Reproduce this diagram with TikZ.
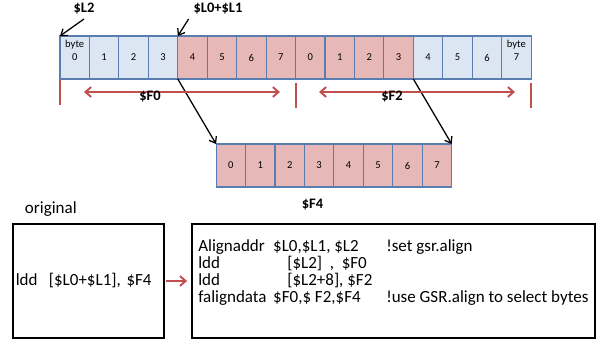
\documentclass[tikz,border=0pt]{standalone}
\usepackage{fontspec}
\setmainfont{Carlito}
\usetikzlibrary{positioning,arrows.meta,calc}
\definecolor{cellblue}{HTML}{DCE6F2}
\definecolor{cellpink}{HTML}{E6B9B8}
\definecolor{cellline}{HTML}{5A7DB0}
\definecolor{rangered}{HTML}{C0504D}
\tikzset{
  cell/.style={draw=cellline,line width=0.8pt,minimum width=0.736cm,minimum height=1.075cm,
    inner sep=0pt,outer sep=0pt,font=\fontsize{7.5}{9}\selectfont},
  bcell/.style={cell,fill=cellblue},
  pcell/.style={cell,fill=cellpink},
  bytelbl/.style={anchor=north,inner sep=3pt,font=\fontsize{7.5}{9}\selectfont},
  ptr/.style={-{Straight Barb[length=4pt,width=6pt]},line width=0.9pt},
  redline/.style={rangered,line width=1.4pt},
  reglbl/.style={font=\fontsize{10.3}{12}\selectfont\bfseries},
  codebox/.style={draw,line width=0.9pt,minimum height=2.85cm}
}
\begin{document}
\begin{tikzpicture}[x=0.025cm,y=-0.025cm]
\useasboundingbox (0,0) rectangle (600,343);
% memory: two doublewords
\node[bcell,label={[bytelbl]north:byte}] (a0) at (74.72,57.5) {0};
\node[bcell] (a1) [right=0pt of a0] {1};
\node[bcell] (a2) [right=0pt of a1] {2};
\node[bcell] (a3) [right=0pt of a2] {3};
\node[pcell] (a4) [right=0pt of a3] {4};
\node[pcell] (a5) [right=0pt of a4] {5};
\node[pcell] (a6) [right=0pt of a5] {6};
\node[pcell] (a7) [right=0pt of a6] {7};
\node[pcell] (a8) [right=0pt of a7] {0};
\node[pcell] (a9) [right=0pt of a8] {1};
\node[pcell] (a10) [right=0pt of a9] {2};
\node[pcell] (a11) [right=0pt of a10] {3};
\node[bcell] (a12) [right=0pt of a11] {4};
\node[bcell] (a13) [right=0pt of a12] {5};
\node[bcell] (a14) [right=0pt of a13] {6};
\node[bcell,label={[bytelbl]north:byte}] (a15) [right=0pt of a14] {7};
% result register
\node[pcell] (f0) at (230.8,165.5) {0};
\node[pcell] (f1) [right=0pt of f0] {1};
\node[pcell] (f2) [right=0pt of f1] {2};
\node[pcell] (f3) [right=0pt of f2] {3};
\node[pcell] (f4) [right=0pt of f3] {4};
\node[pcell] (f5) [right=0pt of f4] {5};
\node[pcell] (f6) [right=0pt of f5] {6};
\node[pcell] (f7) [right=0pt of f6] {7};
% address labels
\node[reglbl] (lblL2) at (84,8.5) {\$L2};
\node[reglbl] (lblL01) at (218,8.5) {\$L0+\$L1};
\draw[ptr] (lblL2.south) -- (a0.north west);
\draw[ptr] (lblL01.south west) -- (a3.north east);
\draw[ptr] (a3.south east) -- (f0.north west);
\draw[ptr] (a11.south east) -- (f7.north east);
% register ranges
\draw[redline] ($(a0.south west)+(0,1)$) -- ++(0,25);
\draw[redline] ($(a7.south east)+(0,4)$) -- ++(0,25);
\draw[redline] ($(a15.south east)+(0,4)$) -- ++(0,25);
\draw[redline,{Straight Barb[length=4pt,width=7pt]}-{Straight Barb[length=4pt,width=7pt]}] (84,92) -- (280,92);
\draw[redline,{Straight Barb[length=4pt,width=7pt]}-{Straight Barb[length=4pt,width=7pt]}] (319,92) -- (515,92);
\node[reglbl] (lblF0) at (150,97) {\$F0};
\node[reglbl] (lblF2) at (392,97) {\$F2};
\node[reglbl] (lblF4) at (312.5,205) {\$F4};
% code
\node[anchor=base west,font=\fontsize{12.1}{14}\selectfont] (orig) at (20,213) {original};
\node[codebox,minimum width=3.775cm,text width=3.775cm-4pt,inner xsep=2pt,align=left,
  font=\fontsize{12.1}{14}\selectfont] (oldcode) at (88.5,281) {ldd\ \ [\$L0+\$L1], \$F4};
\node[codebox,minimum width=10.075cm] (newcode) at (393.5,281) {};
\node[anchor=base west,inner sep=0pt,font=\fontsize{12.1}{11.6}\selectfont] (codetxt) at (198,251)
  {\begin{tabular}[t]{@{}p{53.3pt}@{}p{80.4pt}@{}l@{}}
  Alignaddr & \$L0,\$L1, \$L2 & !set gsr.align\\
  ldd & \hspace{10pt}[\$L2]\ \ ,\ \ \$F0 & \\
  ldd & \hspace{10pt}[\$L2+8], \$F2 & \\
  faligndata & \$F0,\$ F2,\$F4 & !use GSR.align to select bytes
  \end{tabular}};
\draw[redline,-{Straight Barb[length=4pt,width=7pt]},shorten <=1pt,shorten >=3pt] (oldcode.east) -- (newcode.west);
\end{tikzpicture}
\end{document}
